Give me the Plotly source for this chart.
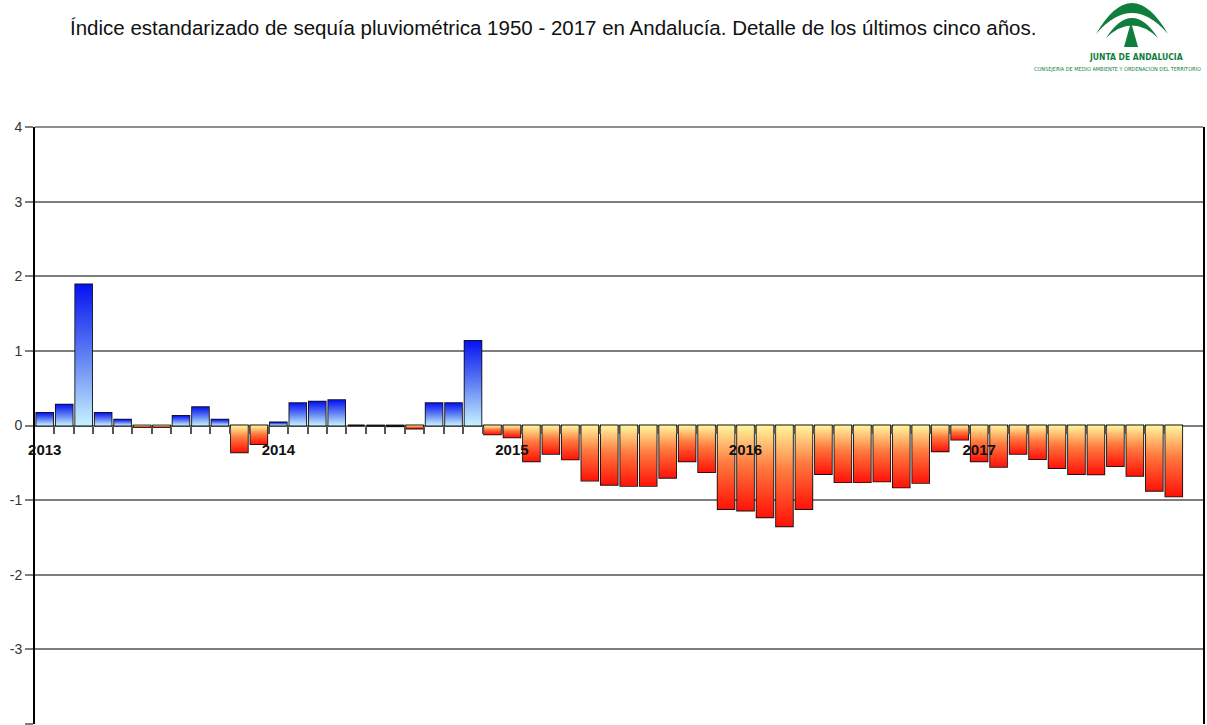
import plotly.graph_objects as go

# ---------------- data ----------------
years = ["2013", "2014", "2015", "2016", "2017"]
spi_2013 = [0.17, 0.28, 1.89, 0.17, 0.08, -0.02, -0.02, 0.13, 0.245, 0.08, -0.36, -0.25]
spi_2014 = [0.04, 0.30, 0.32, 0.34, 0.0, -0.005, -0.01, -0.04, 0.30, 0.30, 1.135, -0.12]
spi_2015 = [-0.16, -0.48, -0.38, -0.455, -0.74, -0.795, -0.81, -0.81, -0.70, -0.48, -0.625, -1.12]
spi_2016 = [-1.14, -1.23, -1.35, -1.12, -0.65, -0.76, -0.76, -0.75, -0.83, -0.77, -0.345, -0.19]
spi_2017 = [-0.48, -0.555, -0.38, -0.45, -0.57, -0.65, -0.655, -0.545, -0.675, -0.875, -0.95, None]
y_ticks = [-4, -3, -2, -1, 0, 1, 2, 3, 4]
y_tick_labels = ["-4", "-3", "-2", "-1", "0", "1", "2", "3", "4"]

values = spi_2013 + spi_2014 + spi_2015 + spi_2016 + spi_2017
n = len(values)
xidx = list(range(n))
jan_idx = [12 * i for i in range(len(years))]
boundaries = [i + 0.5 for i in range(n - 2)]

BAR_W = 0.86
POS_SCALE = [[0, "#c6f2ff"], [0.5, "#5f7ff3"], [1, "#0612f2"]]
NEG_SCALE = [[0, "#ff1208"], [0.55, "#ff7a3e"], [1, "#fff59c"]]

fig = go.Figure()

# gradient fills (one polygon per bar, in data coordinates)
for i, v in zip(xidx, values):
    if v is None or v == 0:
        continue
    xs = [i - BAR_W / 2, i + BAR_W / 2, i + BAR_W / 2, i - BAR_W / 2, i - BAR_W / 2]
    ys = [0, 0, v, v, 0]
    fig.add_trace(go.Scatter(
        x=xs, y=ys, mode="lines", fill="toself",
        line=dict(width=0, color="rgba(0,0,0,0)"),
        fillgradient=dict(type="vertical", colorscale=POS_SCALE if v > 0 else NEG_SCALE),
        hoverinfo="skip", showlegend=False,
    ))

# bar outlines
fig.add_trace(go.Bar(
    x=xidx, y=values, width=BAR_W,
    marker=dict(color="rgba(0,0,0,0)", line=dict(color="#111111", width=1.8)),
    showlegend=False,
))

# invisible trace to carry the year axis
fig.add_trace(go.Scatter(x=jan_idx, y=[0] * len(jan_idx), xaxis="x2", mode="markers",
                         marker=dict(opacity=0), hoverinfo="skip", showlegend=False))

L, R, T, B = 35, 4, 127, 1
W, H = 1207, 725
pw, ph = W - L - R, H - T - B


def px(x):
    return (x - L) / pw


def py(y):
    return (H - B - y) / ph


fig.update_layout(
    width=W, height=H,
    margin=dict(l=L, r=R, t=T, b=B),
    paper_bgcolor="white", plot_bgcolor="white",
    font=dict(family="Liberation Sans, Arial, sans-serif", color="#222"),
    xaxis=dict(range=[-0.5, n - 0.5], anchor="free", position=0.5,
               tickvals=boundaries, showticklabels=False, ticks="outside",
               ticklen=7, tickwidth=1.5, tickcolor="#555", showgrid=False,
               zeroline=False, showline=False, fixedrange=True),
    xaxis2=dict(range=[-0.5, n - 0.5], overlaying="x", anchor="free", position=0.5,
                tickvals=jan_idx, ticktext=years, ticks="", showgrid=False,
                zeroline=False, showline=False, ticklabelstandoff=13,
                tickfont=dict(family="Liberation Sans, Arial", size=15, color="#111",
                              weight="bold")),
    yaxis=dict(range=[-4, 4], tickvals=y_ticks, ticktext=y_tick_labels,
               showgrid=True, gridcolor="#7d7d7d",
               gridwidth=1.5, zeroline=False, ticks="outside", ticklen=8,
               tickwidth=1.5, tickcolor="#7d7d7d", showline=True, linecolor="#000",
               linewidth=2, mirror=True,
               tickfont=dict(family="Liberation Sans, Arial", size=14, color="#333")),
    bargap=0.14,
)

# top frame line
fig.add_shape(type="line", xref="paper", yref="paper", x0=0, x1=1, y0=1, y1=1,
              line=dict(color="#6a6a6a", width=1.5))

# title
fig.add_annotation(text="Índice estandarizado de sequía pluviométrica 1950 - 2017 en Andalucía. Detalle de los últimos cinco años.",
                   xref="paper", yref="paper", x=px(553), y=py(27),
                   xanchor="center", yanchor="middle", showarrow=False,
                   font=dict(family="Liberation Sans, Arial", size=20.5, color="#111"))

# logo (decorative)
GREEN = "#0f7d3c"
outer = (f"M {px(1096)},{py(34)} Q {px(1132)},{py(-28)} {px(1168)},{py(34)} "
         f"Q {px(1132)},{py(-8)} {px(1096)},{py(34)} Z")
inner = (f"M {px(1106)},{py(38)} Q {px(1132)},{py(-2)} {px(1158)},{py(38)} "
         f"Q {px(1132)},{py(13)} {px(1106)},{py(38)} Z")
tri = f"M {px(1131)},{py(22)} L {px(1124)},{py(47)} L {px(1138)},{py(47)} Z"
for p in (outer, inner, tri):
    fig.add_shape(type="path", path=p, xref="paper", yref="paper",
                  fillcolor=GREEN, line=dict(width=0))

fig.add_annotation(text="JUNTA DE ANDALUCIA", xref="paper", yref="paper",
                   x=px(1136), y=py(57), xanchor="center", yanchor="middle",
                   showarrow=False,
                   font=dict(family="Liberation Sans Narrow, DejaVu Sans Condensed", size=8.5,
                             color=GREEN, weight="bold"))
fig.add_annotation(text="CONSEJERIA DE MEDIO AMBIENTE Y ORDENACION DEL TERRITORIO", xref="paper", yref="paper",
                   x=px(1032), y=py(70), xanchor="left", yanchor="middle",
                   showarrow=False,
                   font=dict(family="Liberation Sans Narrow, DejaVu Sans Condensed", size=5.5, color=GREEN))

fig.write_html("out.html", config={"displayModeBar": False},
               post_script="document.body.style.margin='0';document.body.style.overflow='hidden';")
